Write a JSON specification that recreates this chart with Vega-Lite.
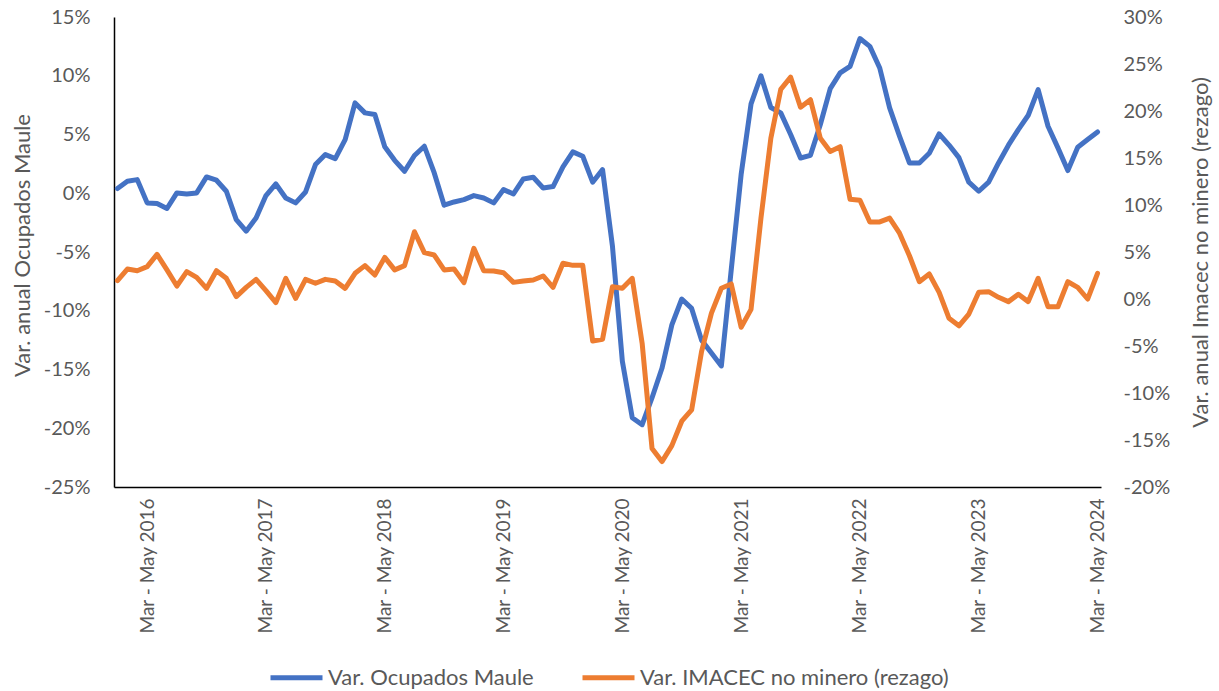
{
  "$schema": "https://vega.github.io/schema/vega-lite/v6.json",
  "width": 987,
  "height": 470,
  "autosize": "none",
  "padding": {"left": 114, "top": 17, "right": 118, "bottom": 204},
  "background": "white",
  "config": {
    "view": {"stroke": null},
    "font": "Lato",
    "axis": {"grid": false, "ticks": false, "labelColor": "#595959", "titleColor": "#595959", "labelFont": "Lato", "titleFont": "Lato", "titleFontWeight": "normal"}
  },
  "data": {"values": [
    {"periodo": "Dec - Feb 2016", "ocupados": 0.40, "imacec": 1.95},
    {"periodo": "Jan - Mar 2016", "ocupados": 1.02, "imacec": 3.19},
    {"periodo": "Feb - Apr 2016", "ocupados": 1.16, "imacec": 3.01},
    {"periodo": "Mar - May 2016", "ocupados": -0.82, "imacec": 3.44},
    {"periodo": "Apr - Jun 2016", "ocupados": -0.88, "imacec": 4.75},
    {"periodo": "May - Jul 2016", "ocupados": -1.30, "imacec": 3.09},
    {"periodo": "Jun - Aug 2016", "ocupados": 0.03, "imacec": 1.38},
    {"periodo": "Jul - Sep 2016", "ocupados": -0.06, "imacec": 2.91},
    {"periodo": "Aug - Oct 2016", "ocupados": 0.03, "imacec": 2.30},
    {"periodo": "Sep - Nov 2016", "ocupados": 1.39, "imacec": 1.13},
    {"periodo": "Oct - Dec 2016", "ocupados": 1.11, "imacec": 3.01},
    {"periodo": "Nov - Jan 2017", "ocupados": 0.17, "imacec": 2.20},
    {"periodo": "Dec - Feb 2017", "ocupados": -2.24, "imacec": 0.25},
    {"periodo": "Jan - Mar 2017", "ocupados": -3.23, "imacec": 1.24},
    {"periodo": "Feb - Apr 2017", "ocupados": -2.10, "imacec": 2.09},
    {"periodo": "Mar - May 2017", "ocupados": -0.20, "imacec": 0.89},
    {"periodo": "Apr - Jun 2017", "ocupados": 0.79, "imacec": -0.39},
    {"periodo": "May - Jul 2017", "ocupados": -0.40, "imacec": 2.20},
    {"periodo": "Jun - Aug 2017", "ocupados": -0.82, "imacec": 0.07},
    {"periodo": "Jul - Sep 2017", "ocupados": 0.11, "imacec": 2.09},
    {"periodo": "Aug - Oct 2017", "ocupados": 2.44, "imacec": 1.67},
    {"periodo": "Sep - Nov 2017", "ocupados": 3.29, "imacec": 2.09},
    {"periodo": "Oct - Dec 2017", "ocupados": 2.95, "imacec": 1.91},
    {"periodo": "Nov - Jan 2018", "ocupados": 4.57, "imacec": 1.13},
    {"periodo": "Dec - Feb 2018", "ocupados": 7.69, "imacec": 2.73},
    {"periodo": "Jan - Mar 2018", "ocupados": 6.84, "imacec": 3.55},
    {"periodo": "Feb - Apr 2018", "ocupados": 6.70, "imacec": 2.55},
    {"periodo": "Mar - May 2018", "ocupados": 3.95, "imacec": 4.43},
    {"periodo": "Apr - Jun 2018", "ocupados": 2.80, "imacec": 3.10},
    {"periodo": "May - Jul 2018", "ocupados": 1.87, "imacec": 3.55},
    {"periodo": "Jun - Aug 2018", "ocupados": 3.21, "imacec": 7.16},
    {"periodo": "Jul - Sep 2018", "ocupados": 4.00, "imacec": 4.93},
    {"periodo": "Aug - Oct 2018", "ocupados": 1.73, "imacec": 4.68},
    {"periodo": "Sep - Nov 2018", "ocupados": -1.02, "imacec": 3.09},
    {"periodo": "Oct - Dec 2018", "ocupados": -0.74, "imacec": 3.19},
    {"periodo": "Nov - Jan 2019", "ocupados": -0.54, "imacec": 1.74},
    {"periodo": "Dec - Feb 2019", "ocupados": -0.20, "imacec": 5.39},
    {"periodo": "Jan - Mar 2019", "ocupados": -0.40, "imacec": 3.01},
    {"periodo": "Feb - Apr 2019", "ocupados": -0.82, "imacec": 2.98},
    {"periodo": "Mar - May 2019", "ocupados": 0.31, "imacec": 2.80},
    {"periodo": "Apr - Jun 2019", "ocupados": -0.06, "imacec": 1.77},
    {"periodo": "May - Jul 2019", "ocupados": 1.22, "imacec": 1.91},
    {"periodo": "Jun - Aug 2019", "ocupados": 1.36, "imacec": 2.02},
    {"periodo": "Jul - Sep 2019", "ocupados": 0.45, "imacec": 2.45},
    {"periodo": "Aug - Oct 2019", "ocupados": 0.57, "imacec": 1.24},
    {"periodo": "Sep - Nov 2019", "ocupados": 2.24, "imacec": 3.80},
    {"periodo": "Oct - Dec 2019", "ocupados": 3.52, "imacec": 3.58},
    {"periodo": "Nov - Jan 2020", "ocupados": 3.15, "imacec": 3.58},
    {"periodo": "Dec - Feb 2020", "ocupados": 0.94, "imacec": -4.47},
    {"periodo": "Jan - Mar 2020", "ocupados": 2.01, "imacec": -4.29},
    {"periodo": "Feb - Apr 2020", "ocupados": -4.5, "imacec": 1.31},
    {"periodo": "Mar - May 2020", "ocupados": -14.3, "imacec": 1.14},
    {"periodo": "Apr - Jun 2020", "ocupados": -19.1, "imacec": 2.20},
    {"periodo": "May - Jul 2020", "ocupados": -19.7, "imacec": -4.71},
    {"periodo": "Jun - Aug 2020", "ocupados": -17.4, "imacec": -15.9},
    {"periodo": "Jul - Sep 2020", "ocupados": -14.9, "imacec": -17.3},
    {"periodo": "Aug - Oct 2020", "ocupados": -11.2, "imacec": -15.6},
    {"periodo": "Sep - Nov 2020", "ocupados": -9.0, "imacec": -13.0},
    {"periodo": "Oct - Dec 2020", "ocupados": -9.8, "imacec": -11.8},
    {"periodo": "Nov - Jan 2021", "ocupados": -12.5, "imacec": -5.6},
    {"periodo": "Dec - Feb 2021", "ocupados": -13.6, "imacec": -1.5},
    {"periodo": "Jan - Mar 2021", "ocupados": -14.7, "imacec": 1.14},
    {"periodo": "Feb - Apr 2021", "ocupados": -6.5, "imacec": 1.6},
    {"periodo": "Mar - May 2021", "ocupados": 1.6, "imacec": -3.0},
    {"periodo": "Apr - Jun 2021", "ocupados": 7.6, "imacec": -1.1},
    {"periodo": "May - Jul 2021", "ocupados": 10.0, "imacec": 8.6},
    {"periodo": "Jun - Aug 2021", "ocupados": 7.3, "imacec": 17.1},
    {"periodo": "Jul - Sep 2021", "ocupados": 6.84, "imacec": 22.3},
    {"periodo": "Aug - Oct 2021", "ocupados": 5.0, "imacec": 23.6},
    {"periodo": "Sep - Nov 2021", "ocupados": 3.0, "imacec": 20.4},
    {"periodo": "Oct - Dec 2021", "ocupados": 3.23, "imacec": 21.2},
    {"periodo": "Nov - Jan 2022", "ocupados": 5.85, "imacec": 17.1},
    {"periodo": "Dec - Feb 2022", "ocupados": 8.91, "imacec": 15.7},
    {"periodo": "Jan - Mar 2022", "ocupados": 10.24, "imacec": 16.2},
    {"periodo": "Feb - Apr 2022", "ocupados": 10.8, "imacec": 10.6},
    {"periodo": "Mar - May 2022", "ocupados": 13.17, "imacec": 10.5},
    {"periodo": "Apr - Jun 2022", "ocupados": 12.5, "imacec": 8.2},
    {"periodo": "May - Jul 2022", "ocupados": 10.66, "imacec": 8.2},
    {"periodo": "Jun - Aug 2022", "ocupados": 7.26, "imacec": 8.6},
    {"periodo": "Jul - Sep 2022", "ocupados": 4.85, "imacec": 7.0},
    {"periodo": "Aug - Oct 2022", "ocupados": 2.58, "imacec": 4.6},
    {"periodo": "Sep - Nov 2022", "ocupados": 2.58, "imacec": 1.84},
    {"periodo": "Oct - Dec 2022", "ocupados": 3.40, "imacec": 2.66},
    {"periodo": "Nov - Jan 2023", "ocupados": 5.05, "imacec": 0.7},
    {"periodo": "Dec - Feb 2023", "ocupados": 4.1, "imacec": -2.05},
    {"periodo": "Jan - Mar 2023", "ocupados": 3.03, "imacec": -2.85},
    {"periodo": "Feb - Apr 2023", "ocupados": 0.94, "imacec": -1.6},
    {"periodo": "Mar - May 2023", "ocupados": 0.17, "imacec": 0.71},
    {"periodo": "Apr - Jun 2023", "ocupados": 0.94, "imacec": 0.78},
    {"periodo": "May - Jul 2023", "ocupados": 2.58, "imacec": 0.18},
    {"periodo": "Jun - Aug 2023", "ocupados": 4.09, "imacec": -0.28},
    {"periodo": "Jul - Sep 2023", "ocupados": 5.42, "imacec": 0.5},
    {"periodo": "Aug - Oct 2023", "ocupados": 6.64, "imacec": -0.28},
    {"periodo": "Sep - Nov 2023", "ocupados": 8.82, "imacec": 2.2},
    {"periodo": "Oct - Dec 2023", "ocupados": 5.70, "imacec": -0.82},
    {"periodo": "Nov - Jan 2024", "ocupados": 3.86, "imacec": -0.82},
    {"periodo": "Dec - Feb 2024", "ocupados": 1.93, "imacec": 1.84},
    {"periodo": "Jan - Mar 2024", "ocupados": 3.91, "imacec": 1.24},
    {"periodo": "Feb - Apr 2024", "ocupados": 4.57, "imacec": 0.0},
    {"periodo": "Mar - May 2024", "ocupados": 5.22, "imacec": 2.73}
  ]},
  "encoding": {
    "x": {
      "field": "periodo", "type": "ordinal", "sort": null,
      "scale": {"type": "point", "padding": 0.35},
      "axis": {
        "title": null,
        "values": ["Mar - May 2016", "Mar - May 2017", "Mar - May 2018", "Mar - May 2019", "Mar - May 2020", "Mar - May 2021", "Mar - May 2022", "Mar - May 2023", "Mar - May 2024"],
        "labelAngle": 270, "labelAlign": "right", "labelBaseline": "middle",
        "labelFontSize": 19, "labelPadding": 11,
        "domainColor": "#000000", "domainWidth": 1.5
      }
    }
  },
  "layer": [
    {
      "mark": {"type": "line", "strokeWidth": 5, "strokeJoin": "round", "strokeCap": "round"},
      "encoding": {
        "y": {
          "field": "ocupados", "type": "quantitative",
          "scale": {"domain": [-25, 15], "nice": false, "zero": false},
          "axis": {
            "orient": "left", "values": [-25, -20, -15, -10, -5, 0, 5, 10, 15],
            "labelExpr": "datum.value + '%'", "labelFontSize": 20, "labelPadding": 24,
            "domainColor": "#000000", "domainWidth": 1.5,
            "title": "Var. anual Ocupados Maule", "titleFontSize": 22,
            "titleAngle": 270, "titleX": -92, "titleY": 228, "titleAlign": "center", "titleBaseline": "middle"
          }
        },
        "color": {
          "datum": "Var. Ocupados Maule", "type": "nominal",
          "scale": {"domain": ["Var. Ocupados Maule", "Var. IMACEC no minero (rezago)"], "range": ["#4472C4", "#ED7D31"]},
          "legend": {
            "orient": "none", "legendX": 154, "legendY": 632, "direction": "horizontal", "title": null,
            "symbolType": "stroke", "symbolSize": 2704, "symbolStrokeWidth": 5,
            "labelFontSize": 22, "labelColor": "#595959", "labelFont": "Lato", "labelOffset": 3, "labelLimit": 500,
            "columnPadding": 38
          }
        }
      }
    },
    {
      "mark": {"type": "line", "strokeWidth": 5, "strokeJoin": "round", "strokeCap": "round"},
      "encoding": {
        "y": {
          "field": "imacec", "type": "quantitative",
          "scale": {"domain": [-20, 30], "nice": false, "zero": false},
          "axis": {
            "orient": "right", "values": [-20, -15, -10, -5, 0, 5, 10, 15, 20, 25, 30],
            "labelExpr": "datum.value + '%'", "labelFontSize": 20, "labelPadding": 22,
            "domain": false,
            "title": "Var. anual Imacec no minero (rezago)", "titleFontSize": 22,
            "titleAngle": 270, "titleX": 99, "titleY": 235, "titleAlign": "center", "titleBaseline": "middle"
          }
        },
        "color": {"datum": "Var. IMACEC no minero (rezago)", "type": "nominal"}
      }
    }
  ],
  "resolve": {"scale": {"y": "independent"}}
}
